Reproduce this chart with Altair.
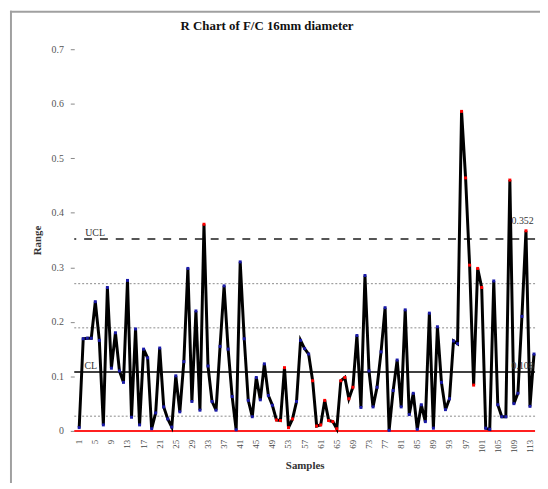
import altair as alt
import pandas as pd

# ---- data ----
samples = list(range(1, 115))
ranges = [
    0.006, 0.169, 0.170, 0.170, 0.237, 0.166, 0.011, 0.263, 0.115, 0.180,
    0.110, 0.089, 0.276, 0.025, 0.187, 0.011, 0.150, 0.134, 0.004, 0.033,
    0.152, 0.044, 0.022, 0.007, 0.101, 0.035, 0.127, 0.298, 0.054, 0.220,
    0.038, 0.379, 0.119, 0.054, 0.038, 0.155, 0.266, 0.150, 0.063, 0.002,
    0.310, 0.169, 0.056, 0.026, 0.098, 0.057, 0.123, 0.065, 0.047, 0.020,
    0.019, 0.116, 0.006, 0.022, 0.054, 0.166, 0.151, 0.141, 0.092, 0.009,
    0.011, 0.056, 0.019, 0.017, 0.004, 0.092, 0.098, 0.059, 0.080, 0.175,
    0.043, 0.285, 0.110, 0.044, 0.080, 0.145, 0.226, 0.001, 0.074, 0.130,
    0.044, 0.222, 0.030, 0.069, 0.003, 0.048, 0.017, 0.216, 0.005, 0.191,
    0.089, 0.039, 0.059, 0.165, 0.160, 0.586, 0.464, 0.304, 0.084, 0.298,
    0.263, 0.005, 0.003, 0.275, 0.048, 0.026, 0.026, 0.460, 0.050, 0.069,
    0.210, 0.367, 0.045, 0.141,
]
flagged_samples = [32, 50, 51, 52, 53, 54, 59, 60, 61, 62, 63, 64, 65, 66,
                   67, 68, 69, 96, 97, 98, 99, 100, 101, 108, 112]

ucl = 0.352
cl = 0.108
lcl = 0.0
zone_lines = [0.027, 0.189, 0.270]

x_tick_values = list(range(1, 115, 4))
y_tick_values = [0, 0.1, 0.2, 0.3, 0.4, 0.5, 0.6, 0.7]

title_text = "R Chart of F/C 16mm diameter"

# ---- tables ----
df = pd.DataFrame({
    "sample": samples,
    "range": ranges,
    "status": ["out" if s in flagged_samples else "in" for s in samples],
})
xticks_df = pd.DataFrame({"x": x_tick_values, "t": [str(v) for v in x_tick_values]})
zones_df = pd.DataFrame({"y": zone_lines})
ucl_df = pd.DataFrame({"y": [ucl]})
cl_df = pd.DataFrame({"y": [cl]})
lcl_df = pd.DataFrame({"y": [lcl]})
left_labels = pd.DataFrame({"x": [2.5, 2.3], "y": [ucl, cl], "t": ["UCL", "CL"]})
right_labels = pd.DataFrame({"x": [108.4], "y": [cl], "t": [f"{cl:.3f}"]})
ucl_value_label = pd.DataFrame({"x": [108.4], "y": [ucl], "t": [f"{ucl:.3f}"]})
title_df = pd.DataFrame({"t": [title_text]})

SERIF = "Liberation Serif"
PLOT_W, PLOT_H = 466, 386
xscale = alt.Scale(domain=[-0.23, 114.26], nice=False, zero=False)
yscale = alt.Scale(domain=[0, 0.7], nice=False, zero=True)

x_axis = alt.Axis(
    values=x_tick_values, labels=False, ticks=False, domain=False, grid=False,
    title="Samples", titleFont=SERIF, titleFontSize=11, titleFontWeight="bold",
    titleColor="#333", titleY=38, titleBaseline="alphabetic",
)
y_axis = alt.Axis(
    values=y_tick_values, format=".1~f", labelFont=SERIF, labelFontSize=10,
    labelColor="#555", labelPadding=7, tickSize=4, tickColor="#888",
    domain=False, grid=False, title="Range", titleFont=SERIF, titleFontSize=11,
    titleFontWeight="bold", titleColor="#333", titleX=-37, titleY=193,
    titleAlign="center", titleBaseline="middle",
)

X = alt.X("sample:Q", scale=xscale, axis=x_axis)
Y = alt.Y("range:Q", scale=yscale, axis=y_axis)

frame_v = alt.Chart(alt.Data(values=[{}])).mark_rule(color="#a0a0a0", strokeWidth=2).encode(
    x=alt.value(-64), y=alt.value(-39), y2=alt.value(442))
frame_h = alt.Chart(alt.Data(values=[{}])).mark_rule(color="#a0a0a0", strokeWidth=2).encode(
    x=alt.value(-65), x2=alt.value(475), y=alt.value(-38))

title_mark = alt.Chart(title_df).mark_text(
    align="center", baseline="alphabetic", font=SERIF, fontSize=13, fontWeight="bold",
    color="#111").encode(x=alt.value(195), y=alt.value(-19), text="t:N")

zones = alt.Chart(zones_df).mark_rule(color="#8a8a8a", strokeWidth=1, strokeDash=[2, 2]).encode(
    y=alt.Y("y:Q", scale=yscale))
ucl_rule = alt.Chart(ucl_df).mark_rule(color="#555555", strokeWidth=2, strokeDash=[8, 8]).encode(
    y=alt.Y("y:Q", scale=yscale))
cl_rule = alt.Chart(cl_df).mark_rule(color="black", strokeWidth=1.5).encode(
    y=alt.Y("y:Q", scale=yscale))
lcl_rule = alt.Chart(lcl_df).mark_rule(color="#ff2020", strokeWidth=2).encode(
    y=alt.Y("y:Q", scale=yscale))

line = alt.Chart(df).mark_line(color="black", strokeWidth=3).encode(x=X, y=Y)
points = alt.Chart(df).mark_square(size=9, opacity=1).encode(
    x=alt.X("sample:Q", scale=xscale),
    y=alt.Y("range:Q", scale=yscale),
    color=alt.Color("status:N", scale=alt.Scale(domain=["in", "out"], range=["#1a1aa8", "#ff0000"]), legend=None),
)

xtick_labels = alt.Chart(xticks_df).mark_text(
    angle=270, align="right", baseline="middle", font=SERIF, fontSize=9, color="#444").encode(
    x=alt.X("x:Q", scale=xscale), y=alt.value(PLOT_H + 9), text="t:N")

lbl_left = alt.Chart(left_labels).mark_text(
    align="left", baseline="bottom", dy=-1, font=SERIF, fontSize=10, color="#333").encode(
    x=alt.X("x:Q", scale=xscale), y=alt.Y("y:Q", scale=yscale), text="t:N")
lbl_right = alt.Chart(right_labels).mark_text(
    align="left", baseline="bottom", dy=-1, font=SERIF, fontSize=10, color="#333").encode(
    x=alt.X("x:Q", scale=xscale), y=alt.Y("y:Q", scale=yscale), text="t:N")
lbl_ucl_val = alt.Chart(ucl_value_label).mark_text(
    align="left", baseline="bottom", dy=-13, font=SERIF, fontSize=10, color="#333").encode(
    x=alt.X("x:Q", scale=xscale), y=alt.Y("y:Q", scale=yscale), text="t:N")

chart = alt.layer(
    frame_v, frame_h, title_mark, zones, lcl_rule, ucl_rule, cl_rule, line, points,
    xtick_labels, lbl_left, lbl_right, lbl_ucl_val,
).properties(
    width=PLOT_W, height=PLOT_H,
    autosize=alt.AutoSizeParams(type="none"),
    padding={"left": 67, "top": 39, "right": 5, "bottom": 50},
).configure_view(stroke=None)

chart.save("out.html", embed_options={"renderer": "svg", "actions": False})
